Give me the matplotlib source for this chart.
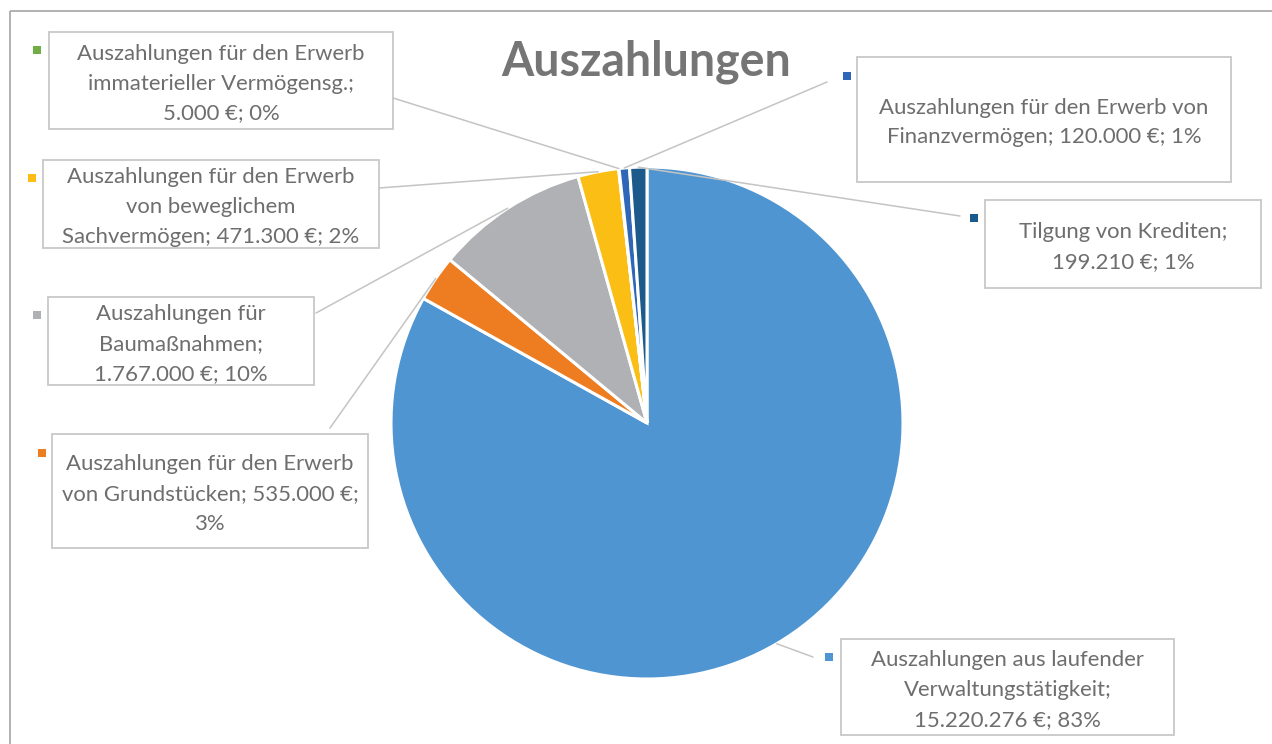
import matplotlib
matplotlib.use("Agg")
import matplotlib.pyplot as plt
from matplotlib.patches import Rectangle, ConnectionPatch
import numpy as np

# ---- data (clockwise from 12 o'clock) ----
categories = [
    "Auszahlungen aus laufender Verwaltungstätigkeit",
    "Auszahlungen für den Erwerb von Grundstücken",
    "Auszahlungen für Baumaßnahmen",
    "Auszahlungen für den Erwerb von beweglichem Sachvermögen",
    "Auszahlungen für den Erwerb immaterieller Vermögensg.",
    "Auszahlungen für den Erwerb von Finanzvermögen",
    "Tilgung von Krediten",
]
values = [15220276, 535000, 1767000, 471300, 5000, 120000, 199210]
label_texts = [
    "Auszahlungen aus laufender\nVerwaltungstätigkeit;\n15.220.276 €; 83%",
    "Auszahlungen für den Erwerb\nvon Grundstücken; 535.000 €;\n3%",
    "Auszahlungen für\nBaumaßnahmen;\n1.767.000 €; 10%",
    "Auszahlungen für den Erwerb\nvon beweglichem\nSachvermögen; 471.300 €; 2%",
    "Auszahlungen für den Erwerb\nimmaterieller Vermögensg.;\n5.000 €; 0%",
    "Auszahlungen für den Erwerb von\nFinanzvermögen; 120.000 €; 1%",
    "Tilgung von Krediten;\n199.210 €; 1%",
]
title = "Auszahlungen"

colors = ["#4F95D1", "#EE7D22", "#B0B1B4", "#FBBE14", "#70AD47", "#2E66B8", "#1D5A8C"]

# ---- layout (pixel coordinates, y down) ----
W, H = 1272, 744
cx, cy, R = 647, 423, 256
# label boxes: (left, top, right, bottom)
boxes = [
    (841, 639, 1174, 735),
    (52, 434, 368, 548),
    (48, 297, 314, 385),
    (43, 160, 379, 248),
    (49, 32, 393, 129),
    (857, 57, 1231, 182),
    (985, 200, 1261, 288),
]
markers = [(829, 657), (42, 453), (37, 315), (32, 178), (37, 50), (847, 76), (974, 218)]
line_ends = [(813, 657), (330, 428), (316, 313), (379, 188), (393, 98), (827, 82), (960, 216)]

plt.rcParams['font.family'] = ['Lato', 'DejaVu Sans']

fig = plt.figure(figsize=(W / 100, H / 100), dpi=100)
fig.patch.set_facecolor("white")

ov = fig.add_axes([0, 0, 1, 1])
ov.set_xlim(0, W)
ov.set_ylim(H, 0)
ov.axis("off")
ov.patch.set_visible(False)

# outer chart frame
ov.add_patch(Rectangle((9.5, 10.5), 1400, 900, fill=False, edgecolor="#A6A6A6", lw=1.2))

pax = fig.add_axes([(cx - R) / W, (H - cy - R) / H, 2 * R / W, 2 * R / H])
wedges, _ = pax.pie(values, startangle=90, counterclock=False, colors=colors, radius=1,
                    wedgeprops=dict(edgecolor="white", linewidth=2.2))
pax.set_xlim(-1, 1)
pax.set_ylim(-1, 1)
pax.set_aspect("equal")
pax.axis("off")

text_color = "#6E6E6E"
for i, w in enumerate(wedges):
    mid = np.deg2rad((w.theta1 + w.theta2) / 2)
    p = (np.cos(mid), np.sin(mid))
    con = ConnectionPatch(xyA=p, coordsA=pax.transData, xyB=line_ends[i], coordsB=ov.transData,
                          color="#C4C4C4", lw=1.1, zorder=5)
    fig.add_artist(con)
    l, t, r, b = boxes[i]
    ov.add_patch(Rectangle((l, t), r - l, b - t, fill=True, facecolor="white",
                           edgecolor="#C8C8C8", lw=1.3))
    mx, my = markers[i]
    ov.add_patch(Rectangle((mx - 4, my - 4), 8, 8, facecolor=colors[i], edgecolor="none"))
    ov.text((l + r) / 2, (t + b) / 2 + 3, label_texts[i], ha="center", va="center",
            fontsize=15.9, color=text_color, linespacing=1.62)

ov.text(646, 62, title, ha="center", va="center", fontsize=33.5, fontweight="bold", color="#757575")

fig.savefig("out.png", dpi=100)
